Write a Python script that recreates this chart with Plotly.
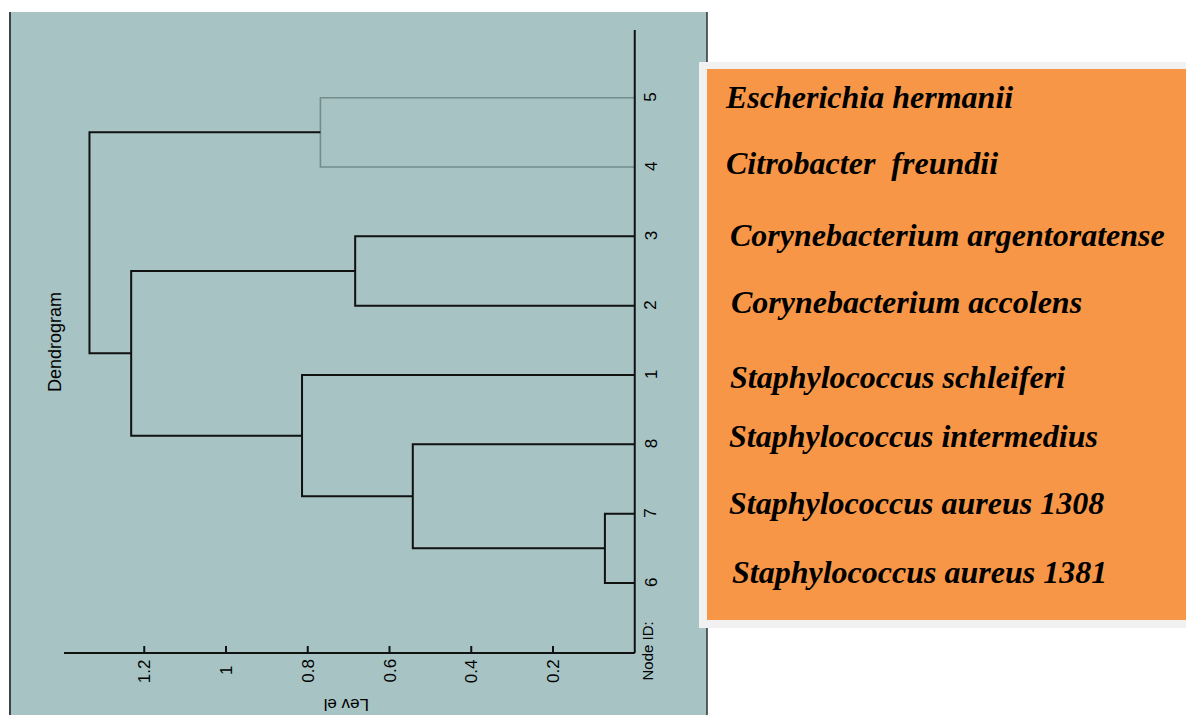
import plotly.graph_objects as go

# ---------------- data ----------------
node_ids = ["6", "7", "8", "1", "2", "3", "4", "5"]          # leaves, bottom to top
merge_a = ["6", "M1", "M2", "2", "4", "M4", "M6"]
merge_b = ["7", "8", "1", "3", "5", "M3", "M5"]
merge_h = [0.073, 0.543, 0.814, 0.684, 0.769, 1.232, 1.334]
merge_color = ["#111111", "#111111", "#111111", "#111111", "#748c8c", "#111111", "#111111"]
level_ticks = [1.2, 1.0, 0.8, 0.6, 0.4, 0.2]
level_tick_labels = ["1.2", "1", "0.8", "0.6", "0.4", "0.2"]
species = ["Escherichia hermanii", "Citrobacter  freundii", "Corynebacterium argentoratense",
           "Corynebacterium accolens", "Staphylococcus schleiferi", "Staphylococcus intermedius",
           "Staphylococcus aureus 1308", "Staphylococcus aureus 1381"]

# ---------------- layout geometry ----------------
W, H = 1186, 715
X0_PX, PX_PER_LEVEL = 634.75, 408.75      # level 0 pixel, pixels per level unit
Y0_PX, PX_PER_LEAF = 583.0, 69.33         # leaf 0 pixel, pixels per leaf
x_range = [X0_PX / PX_PER_LEVEL, (X0_PX - W) / PX_PER_LEVEL]
y_range = [(Y0_PX - H) / PX_PER_LEAF, Y0_PX / PX_PER_LEAF]


def lx(px):
    return (X0_PX - px) / PX_PER_LEVEL


def ly(py):
    return (Y0_PX - py) / PX_PER_LEAF


def px_(x):
    return x / W


def py_(y):
    return 1 - y / H


fig = go.Figure()

# positions of clusters
pos = {n: float(i) for i, n in enumerate(node_ids)}
hgt = {n: 0.0 for n in node_ids}
for k, (a, b, h) in enumerate(zip(merge_a, merge_b, merge_h)):
    name = "M%d" % (k + 1)
    fig.add_trace(go.Scatter(
        x=[hgt[a], h, h, hgt[b]], y=[pos[a], pos[a], pos[b], pos[b]],
        mode="lines", line=dict(color=merge_color[k], width=2 if merge_color[k] == "#111111" else 1.6),
        hoverinfo="skip", showlegend=False))
    pos[name] = (pos[a] + pos[b]) / 2
    hgt[name] = h

axis_y = ly(653)
# node axis (vertical)
fig.add_trace(go.Scatter(x=[0.0, 0.0], y=[axis_y, ly(30)], mode="lines",
                         line=dict(color="#111111", width=2), hoverinfo="skip", showlegend=False))
# level axis (horizontal)
fig.add_trace(go.Scatter(x=[lx(64), 0.0], y=[axis_y, axis_y], mode="lines",
                         line=dict(color="#111111", width=2), hoverinfo="skip", showlegend=False))
# tick marks
tx, ty = [], []
for t in level_ticks:
    tx += [t, t, None]
    ty += [axis_y, ly(646), None]
fig.add_trace(go.Scatter(x=tx, y=ty, mode="lines", line=dict(color="#111111", width=2),
                         hoverinfo="skip", showlegend=False))

annotations = []
for t, lab in zip(level_ticks, level_tick_labels):
    annotations.append(dict(x=t, y=ly(671), xref="x", yref="y", text=lab, showarrow=False,
                            textangle=-90, font=dict(family="Liberation Sans", size=17, color="#000000")))
for i, n in enumerate(node_ids):
    annotations.append(dict(x=lx(651), y=i, xref="x", yref="y", text=n, showarrow=False,
                            textangle=-90, font=dict(family="Liberation Sans", size=17, color="#000000")))
annotations.append(dict(x=px_(647), y=py_(683), xref="paper", yref="paper", text="Node ID:",
                        showarrow=False, textangle=-90,
                        font=dict(family="Liberation Sans", size=15, color="#000000")))
# upside-down axis title (plotly offsets 180-degree text, compensated here)
annotations.append(dict(x=px_(322), y=py_(716), xref="paper", yref="paper", text="Lev el",
                        showarrow=False, textangle=180,
                        font=dict(family="Liberation Sans", size=17, color="#000000")))
annotations.append(dict(x=px_(43), y=py_(342), xref="paper", yref="paper", text="Dendrogram",
                        showarrow=False, textangle=-90,
                        font=dict(family="Liberation Sans", size=18, color="#000000")))

sp_left = [723, 724, 728, 729, 728, 727, 727, 730]
sp_mid = [98.5, 164.5, 237, 303, 378, 437, 504.5, 573]
for s, xl, ym in zip(species, sp_left, sp_mid):
    annotations.append(dict(x=px_(xl), y=py_(ym - 1.5), xref="paper", yref="paper",
                            text="<b><i>%s</i></b>" % s, showarrow=False,
                            xanchor="left", yanchor="middle",
                            font=dict(family="Liberation Serif", size=32, color="#000000")))

shapes = [
    # teal panel
    dict(type="rect", xref="paper", yref="paper", x0=px_(10), x1=px_(707), y0=py_(715), y1=py_(12),
         fillcolor="#a7c3c4", line=dict(width=0), layer="below"),
    dict(type="line", xref="paper", yref="paper", x0=px_(10), x1=px_(10), y0=py_(715), y1=py_(12),
         line=dict(color="#3a4646", width=2), layer="below"),
    dict(type="line", xref="paper", yref="paper", x0=px_(707), x1=px_(707), y0=py_(715), y1=py_(12),
         line=dict(color="#2a3333", width=1.5), layer="below"),
    # legend box
    dict(type="rect", xref="paper", yref="paper", x0=px_(699), x1=1, y0=py_(628), y1=py_(62),
         fillcolor="#f1f1f1", line=dict(width=0), layer="below"),
    dict(type="rect", xref="paper", yref="paper", x0=px_(707), x1=1, y0=py_(620), y1=py_(69),
         fillcolor="#f79646", line=dict(width=0), layer="below"),
]

fig.update_layout(
    width=W, height=H, margin=dict(l=0, r=0, t=0, b=0),
    paper_bgcolor="#ffffff", plot_bgcolor="rgba(0,0,0,0)",
    xaxis=dict(range=x_range, visible=False, fixedrange=True),
    yaxis=dict(range=y_range, visible=False, fixedrange=True),
    shapes=shapes, annotations=annotations, showlegend=False,
)

fig.write_html("out.html", config={"displayModeBar": False},
               post_script="document.body.style.margin='0';document.body.style.overflow='hidden';")
